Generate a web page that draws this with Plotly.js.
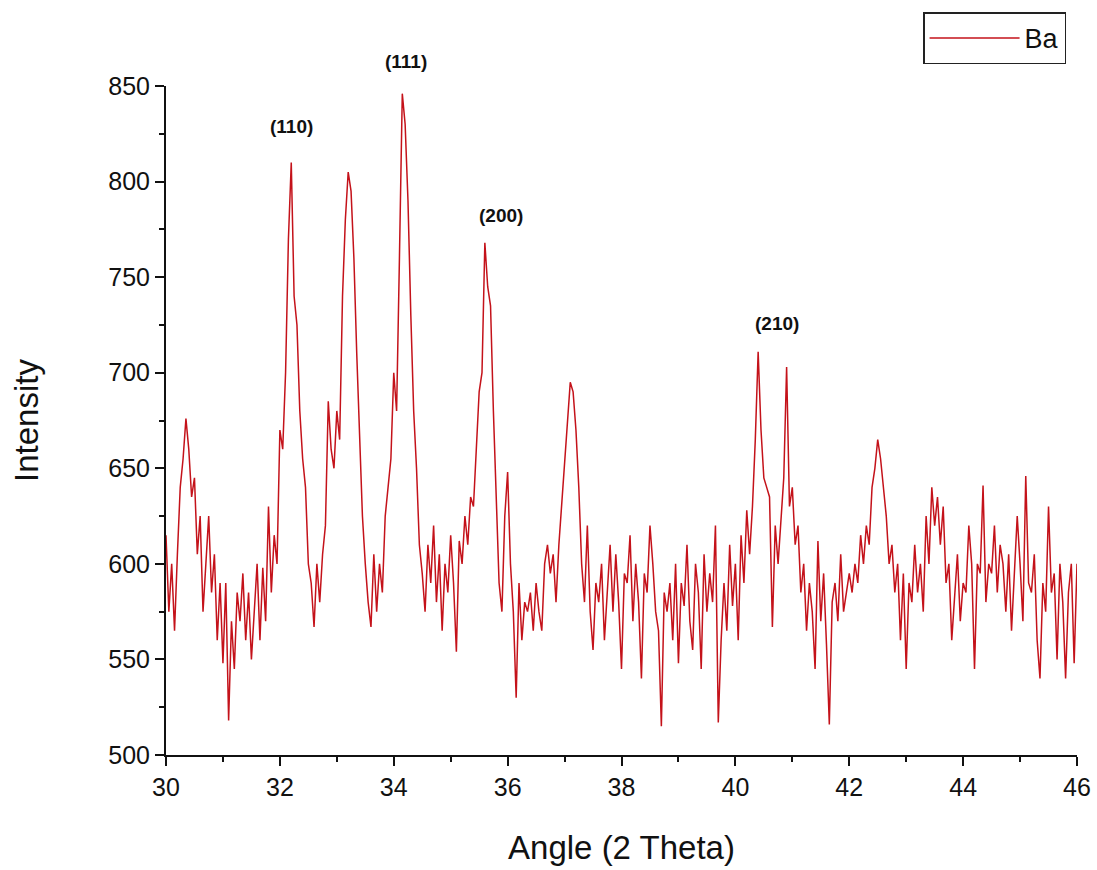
<!DOCTYPE html>
<html>
<head>
<meta charset="utf-8">
<script src="https://cdn.plot.ly/plotly-3.0.1.min.js"></script>
<style>html,body{margin:0;padding:0;background:#fff;}#chart{width:1097px;height:870px;}</style>
</head>
<body>
<div id="chart"></div>
<script>
// 2-theta angles start / step
const angleStart = 30.0;
const angleStep = 0.05;

// Intensity readings, one row per degree (20 values each), last value at 46.0
const int30 = [615,575,600,565,605,640,655,676,660,635,645,605,625,575,600,625,585,605,560,590];
const int31 = [548,590,518,570,545,585,570,595,560,585,550,575,600,560,598,570,630,585,615,600];
const int32 = [670,660,700,770,810,740,725,680,655,640,600,590,567,600,580,605,620,685,660,650];
const int33 = [680,665,740,780,805,795,760,710,665,625,600,580,567,605,575,600,585,625,640,655];
const int34 = [700,680,760,846,830,790,730,680,650,610,595,575,610,590,620,580,605,565,600,585];
const int35 = [615,590,554,612,600,625,610,635,630,660,690,700,768,745,735,680,640,590,575,625];
const int36 = [648,600,575,530,590,560,580,575,585,565,590,575,565,600,610,595,605,580,610,630];
const int37 = [650,675,695,690,670,640,600,580,620,575,555,590,580,600,560,585,610,575,605,580];
const int38 = [545,595,590,615,570,600,580,540,595,585,620,600,575,565,515,585,575,590,560,600];
const int39 = [548,590,578,610,570,555,600,585,545,605,575,595,580,620,517,560,590,565,610,578];
const int40 = [600,560,615,590,628,605,630,665,711,670,645,640,635,567,620,600,625,645,703,630];
const int41 = [640,610,620,585,600,565,590,575,545,612,570,595,558,516,580,590,570,605,575,585];
const int42 = [595,585,600,590,615,600,620,610,640,650,665,655,640,625,600,610,585,600,560,595];
const int43 = [545,590,580,610,585,600,575,625,600,640,620,635,610,630,590,600,560,580,605,570];
const int44 = [590,585,620,600,545,600,595,641,580,600,595,620,585,610,600,575,605,565,595,625];
const int45 = [600,570,646,590,585,605,560,540,590,575,630,585,595,550,600,580,540,585,600,548];
const int46 = [600];

// Peak labels
const peakLabels = ["(110)", "(111)", "(200)", "(210)"];
const peakLabelX = [32.2, 34.22, 35.88, 40.73];
const peakLabelY = [829, 863, 782, 726];

const yMin = 500, yMax = 850;
const intensity = [].concat(int30,int31,int32,int33,int34,int35,int36,int37,int38,int39,int40,int41,int42,int43,int44,int45,int46);
const angle = intensity.map((_, i) => +(angleStart + i * angleStep).toFixed(2));

const trace = {
  x: angle, y: intensity, type: 'scatter', mode: 'lines', name: 'Ba',
  line: {color: '#c4121a', width: 1.5}
};

const fam = 'Liberation Sans, Arial, sans-serif';
const axisFont = {family: fam, size: 25, color: '#111'};
const layout = {
  width: 1097, height: 870,
  margin: {l: 166, r: 20, t: 84, b: 115},
  paper_bgcolor: '#fff', plot_bgcolor: '#fff',
  showlegend: true,
  legend: {x: 0.988, xanchor: 'right', y: 1.11, yanchor: 'top', bordercolor: '#222', borderwidth: 1.5,
           itemwidth: 90, font: {family: fam, size: 27, color: '#111'}, bgcolor: '#fff',
           tracegroupgap: 0},
  xaxis: {
    range: [30, 46], dtick: 2, tick0: 30, showgrid: false, zeroline: false,
    showline: true, linecolor: '#111', linewidth: 2,
    ticks: 'outside', ticklen: 9, tickwidth: 2, tickcolor: '#111',
    tickfont: axisFont,
    minor: {dtick: 1, tick0: 30, ticks: 'outside', ticklen: 5, tickwidth: 2, tickcolor: '#111', showgrid: false},
    title: {text: 'Angle (2 Theta)', font: {family: fam, size: 33, color: '#111'}, standoff: 36}
  },
  yaxis: {
    range: [yMin, yMax], dtick: 50, tick0: 500, showgrid: false, zeroline: false,
    showline: true, linecolor: '#111', linewidth: 2,
    ticks: 'outside', ticklen: 9, tickwidth: 2, tickcolor: '#111',
    tickfont: axisFont,
    minor: {dtick: 25, tick0: 500, ticks: 'outside', ticklen: 5, tickwidth: 2, tickcolor: '#111', showgrid: false},
    title: {text: 'Intensity', font: {family: fam, size: 33, color: '#111'}, standoff: 60}
  },
  annotations: peakLabels.map((t, i) => ({
    x: peakLabelX[i], y: (peakLabelY[i] - yMin) / (yMax - yMin), xref: 'x', yref: 'paper',
    xanchor: 'center', yanchor: 'middle', text: '<b>' + t + '</b>',
    showarrow: false, font: {family: fam, size: 19, color: '#111'}
  }))
};

Plotly.newPlot('chart', [trace], layout, {displayModeBar: false, staticPlot: true});
</script>
</body>
</html>
